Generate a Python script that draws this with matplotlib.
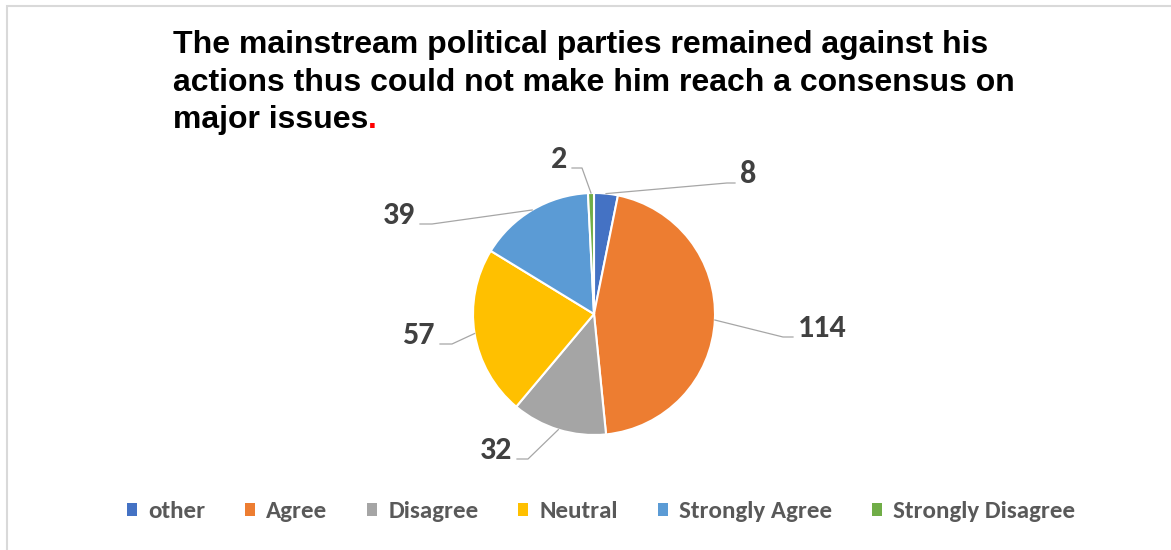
import numpy as np
import matplotlib
matplotlib.use("Agg")
import matplotlib.pyplot as plt
from matplotlib import font_manager
from matplotlib.patches import Patch, Rectangle

W, H = 1171, 550

# --- dados ---
categorias = ["other", "Agree", "Disagree", "Neutral", "Strongly Agree", "Strongly Disagree"]
valores = [8, 114, 32, 57, 39, 2]
cores = ["#4472C4", "#ED7D31", "#A5A5A5", "#FFC000", "#5B9BD5", "#70AD47"]

titulo = ["The mainstream political parties remained against his",
          "actions thus could not make him reach a consensus on",
          "major issues"]

# linhas-guia: cotovelo e fim (pixels, y para baixo)
guias = [
    ((727, 183), (735, 183)),
    ((783, 337), (793, 337)),
    ((528, 459), (517, 459)),
    ((452, 344), (440, 344)),
    ((432, 224), (420, 224)),
    ((582, 168), (572, 168)),
]


def tem_fonte(fam):
    try:
        font_manager.findfont(font_manager.FontProperties(family=fam),
                              fallback_to_default=False)
        return True
    except ValueError:
        return False


# Calibri -> Carlito se existir, senão Lato
if tem_fonte("Carlito"):
    FONTE, PESO, TAM_ROT, TAM_LEG = "Carlito", "bold", 23, 18
else:
    FONTE, PESO, TAM_ROT, TAM_LEG = "Lato", "heavy", 22, 18
FONTE_TIT = "Arimo" if tem_fonte("Arimo") else "Liberation Sans"


def px(x, y):
    """pixel (y para baixo) -> coordenadas de dados."""
    return x, H - y


fig = plt.figure(figsize=(W / 100, H / 100), dpi=100)
ax = fig.add_axes([0, 0, 1, 1])

wedges, _ = ax.pie(valores, colors=cores, startangle=90, counterclock=False,
                   radius=121, center=px(594, 314),
                   wedgeprops=dict(edgecolor="white", linewidth=1.5))
ax.set_xlim(0, W)
ax.set_ylim(0, H)
ax.set_aspect("equal")
ax.axis("off")

# rótulos com linhas-guia
for w, v, (cot, fim) in zip(wedges, valores, guias):
    ang = np.deg2rad((w.theta1 + w.theta2) / 2)
    cx, cy = w.center
    x0, y0 = cx + w.r * np.cos(ang), cy + w.r * np.sin(ang)
    x1, y1 = px(*cot)
    x2, y2 = px(*fim)
    ax.plot([x0, x1, x2], [y0, y1, y2], color="#A6A6A6", lw=0.9)
    direita = x2 > x1
    ax.text(x2 + (5 if direita else -5), y2, str(v),
            ha="left" if direita else "right", va="baseline",
            fontsize=TAM_ROT, fontweight=PESO, family=FONTE, color="#404040")

# título
bases = [53, 91, 128]
for linha, b in zip(titulo, bases):
    t = ax.text(173, H - b, linha, ha="left", va="baseline", fontsize=23,
                fontweight="bold", family=FONTE_TIT, color="black")
fig.canvas.draw()
bb = t.get_window_extent().transformed(ax.transData.inverted())
ax.text(bb.x1, H - bases[-1], ".", ha="left", va="baseline", fontsize=23,
        fontweight="bold", family=FONTE_TIT, color="#FF0000")

# borda
ax.add_patch(Rectangle(px(7, 700), 1300, 700 - 6, fill=False,
                       edgecolor="#D9D9D9", lw=1.5, clip_on=False))

# legenda
fs_px = TAM_LEG * 100 / 72
handles = [Patch(facecolor=c, edgecolor="none", label=l) for c, l in zip(cores, categorias)]
leg = ax.legend(handles=handles, loc="center", bbox_to_anchor=px(601, 512),
                bbox_transform=ax.transData, ncol=6, frameon=False,
                handlelength=10 / fs_px, handleheight=10 / fs_px,
                handletextpad=11 / fs_px, columnspacing=40 / fs_px,
                prop=dict(family=FONTE, weight=PESO, size=TAM_LEG))
for txt in leg.get_texts():
    txt.set_color("#595959")

fig.savefig("out.png", dpi=100)
